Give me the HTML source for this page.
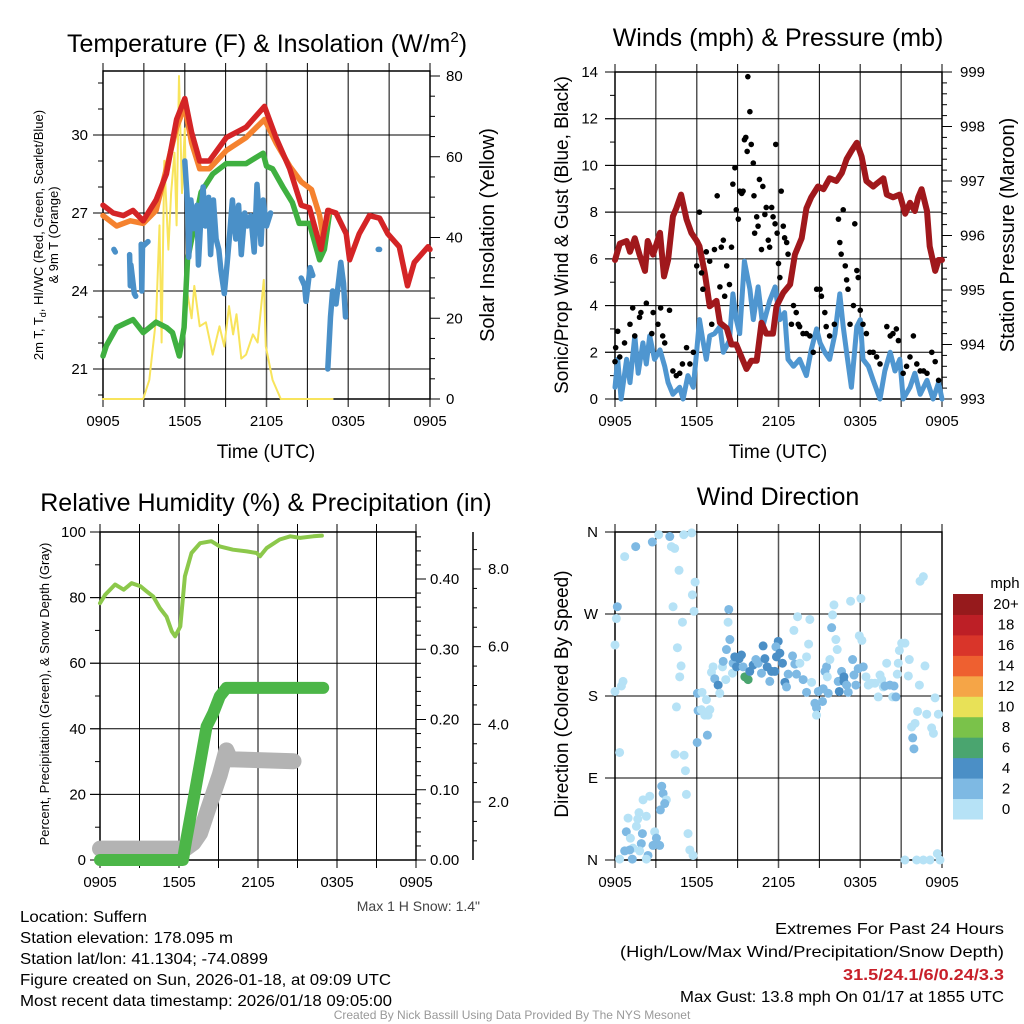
<!DOCTYPE html>
<html><head><meta charset="utf-8"><style>
html,body{margin:0;padding:0;background:#fff;}
svg{display:block;font-family:"Liberation Sans",sans-serif;}
</style></head><body>
<svg id="chart" width="1024" height="1024" viewBox="0 0 1024 1024" xmlns="http://www.w3.org/2000/svg">
<rect x="0" y="0" width="1024" height="1024" fill="#fff"/>
<text x="267" y="52" font-size="25" text-anchor="middle">Temperature (F) &amp; Insolation (W/m<tspan font-size="15" dy="-10">2</tspan><tspan dy="10">)</tspan></text>
<text x="778" y="46" font-size="25" text-anchor="middle">Winds (mph) &amp; Pressure (mb)</text>
<text x="266" y="511" font-size="25" text-anchor="middle">Relative Humidity (%) &amp; Precipitation (in)</text>
<text x="778" y="505" font-size="25" text-anchor="middle">Wind Direction</text>
<text x="266" y="458" font-size="19" text-anchor="middle">Time (UTC)</text>
<text x="778" y="458" font-size="19" text-anchor="middle">Time (UTC)</text>
<text transform="translate(43,235) rotate(-90)" font-size="13" text-anchor="middle">2m T, T<tspan font-size="9" dy="3">d</tspan><tspan dy="-3">, HI/WC (Red, Green, Scarlet/Blue)</tspan></text>
<text transform="translate(58,235) rotate(-90)" font-size="13" text-anchor="middle">&amp; 9m T (Orange)</text>
<text transform="translate(494,235) rotate(-90)" font-size="20" text-anchor="middle">Solar Insolation (Yellow)</text>
<text transform="translate(568,235) rotate(-90)" font-size="19" text-anchor="middle">Sonic/Prop Wind &amp; Gust (Blue, Black)</text>
<text transform="translate(1014,235) rotate(-90)" font-size="20" text-anchor="middle">Station Pressure (Maroon)</text>
<text transform="translate(49,694) rotate(-90)" font-size="13" text-anchor="middle">Percent, Precipitation (Green), &amp; Snow Depth (Gray)</text>
<text transform="translate(568,694) rotate(-90)" font-size="19" text-anchor="middle">Direction (Colored By Speed)</text>
<text x="1005" y="588" font-size="15" text-anchor="middle">mph</text>
<text x="480" y="911" font-size="14" fill="#444" text-anchor="end">Max 1 H Snow: 1.4"</text>
<g font-size="16">
<text x="20" y="922" textLength="127" lengthAdjust="spacingAndGlyphs">Location: Suffern</text>
<text x="20" y="943" textLength="213" lengthAdjust="spacingAndGlyphs">Station elevation: 178.095 m</text>
<text x="20" y="964" textLength="248" lengthAdjust="spacingAndGlyphs">Station lat/lon: 41.1304; -74.0899</text>
<text x="20" y="985" textLength="371" lengthAdjust="spacingAndGlyphs">Figure created on Sun, 2026-01-18, at 09:09 UTC</text>
<text x="20" y="1006" textLength="372" lengthAdjust="spacingAndGlyphs">Most recent data timestamp: 2026/01/18 09:05:00</text>
</g>
<g font-size="16">
<text x="775" y="934" textLength="229" lengthAdjust="spacingAndGlyphs">Extremes For Past 24 Hours</text>
<text x="620" y="957" textLength="384" lengthAdjust="spacingAndGlyphs">(High/Low/Max Wind/Precipitation/Snow Depth)</text>
<text x="843" y="980" textLength="161" lengthAdjust="spacingAndGlyphs" fill="#c8202a" font-weight="bold">31.5/24.1/6/0.24/3.3</text>
<text x="680" y="1002" textLength="324" lengthAdjust="spacingAndGlyphs">Max Gust: 13.8 mph On 01/17 at 1855 UTC</text>
</g>
<text x="512" y="1019" font-size="12" fill="#999" text-anchor="middle">Created By Nick Bassill Using Data Provided By The NYS Mesonet</text>
</svg>
<script>
// ===== DATA (hours since 0905 UTC) =====
const timeLabels = ["0905","1505","2105","0305","0905"];
const tempTicks = [21,24,27,30];
const insolTicks = [0,20,40,60,80];
const windTicks = [0,2,4,6,8,10,12,14];
const pressTicks = [993,994,995,996,997,998,999];
const rhTicks = [0,20,40,60,80,100];
const precipTicks = [0.00,0.10,0.20,0.30,0.40];
const snowTicks = [2.0,4.0,6.0,8.0];
const dirTicks = ["N","E","S","W","N"];
const speedBins = ["0","2","4","6","8","10","12","14","16","18","20+"];

const tempRed = [[0,27.3],[0.75,27.0],[1.5,26.9],[2.2,27.1],[2.95,26.7],[3.9,27.5],[4.65,28.5],[5.4,30.6],[6.0,31.4],[6.5,30.1],[7.1,29.0],[7.8,29.0],[9.05,29.9],[10.5,30.3],[11.85,31.1],[12.7,29.9],[13.7,28.7],[14.55,27.3],[15.15,27.2],[16.0,25.6],[16.5,27.1],[17.1,27.0],[17.85,26.2],[18.1,25.2],[18.8,26.2],[19.55,26.9],[20.3,26.8],[20.9,26.2],[21.75,25.7],[22.35,24.2],[22.85,25.1],[23.85,25.7],[24,25.6]];
const tempOrange = [[0,26.9],[1.0,26.5],[2.0,26.7],[2.95,26.6],[3.9,27.1],[5.4,30.3],[6.0,31.1],[6.5,29.7],[7.1,28.7],[7.8,28.7],[9.05,29.4],[10.5,29.9],[11.85,30.6],[12.7,29.7],[13.7,28.8],[14.55,28.2],[15.3,27.9],[15.9,26.9],[16.15,26.1],[16.6,27.1]];
const tempGreen = [[0,21.5],[0.25,21.9],[1.0,22.6],[2.2,22.9],[2.95,22.4],[3.9,22.8],[4.65,22.6],[5.1,22.4],[5.6,21.5],[5.95,22.6],[6.2,25.2],[6.7,26.5],[7.2,27.8],[8.05,28.5],[9.05,28.9],[10.5,28.9],[11.75,29.3],[12.0,28.8],[12.45,28.7],[13.2,28.0],[13.9,27.4],[14.4,26.6],[15.15,26.6],[15.9,25.2],[16.25,25.6],[16.6,26.9]];
const tempBlue = [[0.8,25.6],[0.9,25.5],null,[1.95,25.4],[2.0,24.2],[2.05,25.0],[2.3,23.9],[2.4,23.8],null,[2.8,25.8],[2.85,24.0],[2.9,25.7],[3.1,25.8],[3.3,25.9],null,[6.0,29.0],[6.2,27.4],[6.3,25.3],[6.45,27.5],[6.65,26.4],[6.9,27.3],[7.0,25.0],[7.2,27.0],[7.35,28.0],[7.5,26.5],[7.75,27.6],[7.9,25.4],[8.1,27.5],[8.3,26.0],[8.5,25.6],[8.65,24.8],[8.9,23.9],[9.1,25.0],[9.3,26.2],[9.5,27.5],[9.75,26.0],[9.95,27.3],[10.15,25.4],[10.4,27.0],[10.6,26.5],[10.85,26.9],[11.1,25.5],[11.3,28.1],[11.6,25.8],[11.75,27.5],[12.0,26.5],[12.3,27.0],null,[14.55,24.5],[14.8,24.2],[14.9,23.6],[15.2,24.9],[15.4,24.6],null,[16.5,21.0],[16.7,23.0],[16.85,24.0],[17.1,23.5],[17.45,25.1],[17.65,24.3],[17.8,23.0],null,[20.2,25.6],[20.3,25.6]];
const insolation = [[0,0],[2.95,0],[3.4,4.7],[3.9,20],[4.15,43],[4.3,14],[4.5,59],[4.8,37],[5.0,51],[5.25,61],[5.4,43],[5.58,80],[5.8,51],[6.0,67],[6.2,26],[6.5,20],[6.7,28],[7.1,18],[7.55,19],[8.05,11],[8.55,18],[8.9,13],[9.25,23],[9.55,16],[9.8,21],[10.15,10],[10.5,11],[11.0,16],[11.35,14],[11.8,29.5],[11.95,13],[12.45,4.7],[13.05,0],[16.85,0]];

const windSpeed = [[0,0.5],[0.2,1.7],[0.45,0],[0.85,1.7],[1.1,0.7],[1.45,2.7],[1.7,1.1],[2.05,2.4],[2.3,1.5],[2.55,2.7],[2.9,1.7],[3.3,2.1],[3.65,1.4],[3.9,0.7],[4.25,0.2],[4.75,0.5],[5.0,0],[5.35,1.0],[5.75,0.5],[6.0,2.1],[6.2,3.4],[6.45,2.5],[6.7,1.7],[6.95,2.7],[7.3,2.8],[7.7,3.1],[7.95,2.0],[8.4,2.5],[8.65,4.5],[8.9,3.4],[9.15,2.8],[9.5,5.9],[9.9,4.7],[10.15,3.4],[10.5,4.8],[10.85,3.1],[11.35,4.2],[11.75,4.8],[12.1,3.4],[12.45,3.7],[12.7,1.7],[13.1,1.4],[13.55,1.7],[14.05,1.0],[14.4,2.1],[14.8,3.0],[15.05,2.4],[15.4,2.0],[15.75,1.7],[16.15,2.8],[16.5,4.5],[16.75,3.1],[17.0,2.0],[17.35,0.5],[17.75,3.1],[18.0,3.4],[18.2,1.7],[18.6,1.4],[18.95,0.8],[19.45,0],[19.8,1.2],[20.2,2.0],[20.55,1.2],[20.9,1.7],[21.15,0],[21.65,0.5],[22.0,1.1],[22.4,0.2],[22.9,0.8],[23.35,0],[23.75,0.7],[24,0]];
const pressure = [[0,995.55],[0.35,995.85],[0.85,995.9],[1.1,995.7],[1.45,995.95],[1.8,995.65],[2.2,995.35],[2.4,995.9],[2.8,995.65],[3.3,996.05],[3.6,995.25],[3.9,995.55],[4.25,996.35],[4.5,996.5],[4.85,996.75],[5.25,996.3],[5.6,996.05],[6.0,995.9],[6.2,995.8],[6.6,995.3],[6.95,994.7],[7.45,994.8],[7.7,994.4],[8.2,994.3],[8.55,994.0],[8.9,994.0],[9.4,993.7],[9.65,993.55],[10.0,993.7],[10.4,993.7],[10.75,994.4],[11.1,994.2],[11.6,994.2],[11.85,994.7],[12.35,994.95],[12.85,995.1],[13.2,995.65],[13.7,995.95],[14.05,996.5],[14.4,996.7],[14.9,996.9],[15.3,996.85],[15.75,997.05],[16.25,997.0],[16.65,997.15],[17.0,997.4],[17.35,997.55],[17.75,997.7],[18.1,997.45],[18.45,997.0],[18.95,996.9],[19.2,996.95],[19.7,997.05],[19.95,996.75],[20.4,996.7],[20.9,996.75],[21.3,996.4],[21.65,996.6],[22.0,996.45],[22.25,996.7],[22.5,996.85],[22.9,996.45],[23.1,995.8],[23.5,995.35],[23.75,995.55],[24,995.55]];
const gusts = [[0,1.6],[0.05,2.2],[0.2,2.9],[0.35,1.8],[0.7,2.4],[1.1,3.2],[1.3,3.9],[1.45,2.7],[1.8,3.5],[1.9,3.7],[2.3,4.1],[2.7,2.8],[2.8,3.7],[3.15,3.2],[3.35,3.9],[3.5,2.7],[3.65,2.4],[4.0,3.8],[4.25,1.2],[4.5,1.0],[4.75,1.1],[4.95,1.5],[5.25,2.2],[5.5,1.5],[5.75,2.0],[6.0,5.7],[6.2,8.0],[6.35,5.4],[6.45,4.7],[6.7,6.3],[6.95,5.9],[7.1,3.2],[7.3,6.4],[7.5,8.7],[7.7,4.8],[7.8,6.5],[7.95,6.8],[8.05,4.4],[8.2,5.7],[8.4,4.9],[8.55,6.5],[8.65,9.2],[8.8,9.9],[8.9,8.1],[9.05,7.7],[9.15,8.9],[9.3,8.8],[9.4,8.9],[9.5,11.1],[9.6,11.2],[9.7,10.6],[9.75,13.8],[9.9,12.3],[10.0,10.9],[10.15,10.1],[10.2,8.7],[10.25,7.1],[10.4,7.8],[10.5,7.4],[10.6,9.4],[10.75,6.4],[10.85,9.1],[11.0,7.9],[11.1,8.2],[11.25,6.8],[11.35,6.5],[11.5,8.2],[11.6,7.8],[11.75,7.5],[11.8,10.9],[11.9,7.1],[12.0,5.8],[12.1,5.2],[12.2,8.9],[12.35,7.4],[12.45,6.9],[12.6,6.7],[12.7,6.2],[12.95,3.2],[13.1,4.0],[13.3,3.7],[13.45,3.2],[13.55,3.1],[13.8,2.8],[14.05,2.8],[14.3,2.7],[14.55,2.0],[14.8,4.7],[15.05,4.7],[15.15,4.4],[15.4,3.7],[15.5,3.1],[15.75,2.7],[16.1,3.2],[16.4,7.7],[16.5,6.7],[16.6,6.2],[16.75,8.1],[16.9,5.7],[17.0,5.1],[17.1,4.7],[17.25,3.2],[17.5,4.0],[17.6,7.5],[17.75,5.5],[17.85,5.2],[18.0,3.8],[18.2,3.2],[18.45,2.8],[18.7,2.0],[18.95,2.0],[19.2,1.8],[19.45,1.5],[19.95,3.1],[20.2,2.7],[20.4,2.8],[20.65,3.0],[20.8,2.5],[21.15,1.1],[21.4,1.4],[21.65,1.8],[21.9,2.7],[22.15,1.5],[22.4,1.2],[22.65,1.2],[22.9,1.1],[23.25,2.0],[23.5,1.6],[23.75,0.8]];

const humidity = [[0,78.3],[0.4,80.9],[1.15,84],[1.8,82.4],[2.4,84.4],[3.05,83.5],[3.55,81.9],[4.05,80.3],[4.55,76.8],[5.05,74.2],[5.45,69.7],[5.7,68.2],[6.1,71.2],[6.45,86.5],[6.95,93.6],[7.6,96.6],[8.45,97.2],[9.1,95.6],[10.1,94.6],[11.15,94.1],[11.9,93.6],[12.15,92.6],[12.65,95.1],[13.65,97.7],[14.45,98.7],[15.2,98.2],[16.2,98.7],[16.85,98.9]];
const precip = [[0,0],[6.3,0],[6.55,0.028],[7.05,0.08],[7.6,0.138],[8.1,0.19],[8.6,0.209],[9.1,0.233],[9.6,0.245],[16.95,0.245]];
const snowDepth = [[0,0.8],[6.5,0.8],[7.1,0.95],[7.6,1.2],[8.1,1.7],[8.6,2.2],[9.1,2.7],[9.6,3.33],[9.9,3.1],[14.7,3.05]];

// [hour, direction degrees, speed mph]
const windDir = [[0.71,333,1],[1.52,344,3],[2.74,349,3],[3.21,357,1],[4.02,355,3],[4.14,344,1],[4.38,342,1],[4.70,318,1],[5.05,357,1],[5.63,359,1],[5.88,305,1],[5.68,291,1],[5.80,273,1],[0.17,278,3],[0.10,265,1],[0,236,1],[0.59,196,1],[0.47,191,1],[0,185,1],[0.34,118,1],[4.26,278,1],[4.95,261,1],[4.58,233,1],[4.85,213,1],[4.75,201,1],[4.51,168,1],[4.41,116,1],[5.07,115,1],[5.17,98,1],[5.24,72,1],[5.36,29,1],[5.49,11,1],[5.73,5,1],
[3.43,81,3],[3.53,73,3],[3.77,66,1],[3.65,62,3],[3.33,55,3],[2.55,70,1],[2.06,66,1],[1.76,52,1],[1.67,45,1],[0.96,46,1],[2.30,48,1],[1.57,37,1],[0.83,31,3],[2.01,29,3],[1.13,24,1],[2.91,31,1],[3.04,24,3],[2.79,16,3],[3.28,16,3],[1.93,18,3],[1.32,13,1],[1.08,11,3],[0.71,10,3],[1.81,10,1],[2.42,5,3],[2.30,1,1],[1.27,1,3],[0.34,1,1],
[6.05,183,3],[6.39,184,1],[6.71,176,1],[6.10,164,3],[6.34,165,1],[6.59,159,1],[6.83,159,1],[6.96,165,1],[6.78,137,3],[6.03,129,3],[7.20,212,1],[7.08,206,1],[7.32,199,3],[7.57,192,5],[7.69,183,1],[7.89,212,1],[7.94,218,3],[8.13,198,1],[8.18,231,3],[8.35,275,3],[8.30,261,1],[8.43,242,3],[8.62,205,1],[8.67,216,3],[8.79,223,5],[8.92,212,5],[9.11,221,5],[9.28,225,5],[9.40,212,3],[9.53,201,7],[9.77,198,7],[9.89,207,5],[10.14,214,5],[10.34,220,3],[10.51,216,3],[10.75,205,3],[10.87,235,5],[11.00,221,5],[11.17,212,5],[11.36,196,3],[11.49,207,5],[11.73,207,5],[11.85,223,5],[11.98,240,5],[11.81,234,3],[12.10,227,5],[12.29,216,5],[12.47,195,5],[12.59,190,3],[12.71,204,3],[13.03,224,3],[13.20,215,3],[13.32,204,3],[13.40,267,1],[13.13,252,1],[13.57,216,1],[13.81,198,3],[14.06,223,1],[14.30,264,1],[14.21,237,1],[14.06,184,3],[14.43,195,1],[14.67,172,3],[14.79,167,3],[14.79,159,1],[14.92,185,3],[15.23,174,3],[15.28,188,3],[15.41,207,3],[15.58,201,1],[15.53,212,3],[15.65,183,3],[15.77,220,1],[15.90,255,3],[15.97,269,1],[16.07,280,1],[16.21,242,1],[16.31,231,1],[16.38,196,3],[16.46,185,5],[16.63,207,3],[16.80,201,5],[16.80,196,5],[17.00,192,3],[17.12,184,3],[17.29,284,1],[17.44,220,3],[17.54,203,3],[17.68,192,3],[17.85,210,3],[17.93,246,1],[18.05,287,1],[18.12,241,1],[18.22,212,3],[18.42,201,1],[18.59,192,1],[18.83,194,1],[19.08,194,1],[19.32,179,1],[19.45,203,1],[19.57,198,1],[19.69,190,1],[19.81,191,3],[19.94,216,1],[20.18,192,3],[20.38,179,1],[20.48,191,3],[20.62,179,3],[20.72,204,1],[20.79,216,1],[20.87,230,1],[21.04,238,1],[21.28,238,1],[21.60,220,1],[21.53,202,1],[22.34,192,1],[22.75,213,1],[22.39,306,1],[22.63,311,1],[22.21,163,1],[22.02,150,1],[21.77,146,1],[21.85,134,3],[21.94,122,3],[22.88,160,1],[23.24,145,1],[23.37,139,1],[23.49,178,1],[23.73,160,1],[21.28,0,1],[22.14,0,1],[22.63,0,1],[23.12,0,1],[23.66,7,1],[23.85,0,1]];

const speedColors = ["#b6e2f6","#7eb9e3","#4b8fc6","#4aa56f","#7ac24a","#e8e157","#f5a547","#ee6030","#d9352a","#bd1f26","#961a1c"];

// ===== RENDERING =====
const NS = 'http://www.w3.org/2000/svg';
const svg = document.getElementById('chart');
function mk(tag, attrs, parent) {
  const e = document.createElementNS(NS, tag);
  for (const k in attrs) e.setAttribute(k, attrs[k]);
  (parent || svg).appendChild(e);
  return e;
}
function linearScale(d0, d1, r0, r1) { return v => r0 + (v - d0) * (r1 - r0) / (d1 - d0); }

function pathFrom(data, xs, ys) {
  let d = '', pen = false;
  for (const p of data) {
    if (!p) { pen = false; continue; }
    d += (pen ? 'L' : 'M') + xs(p[0]).toFixed(1) + ',' + ys(p[1]).toFixed(1);
    pen = true;
  }
  return d;
}
function drawLine(g, data, xs, ys, color, width, name) {
  const p = mk('path', {d: pathFrom(data, xs, ys), fill: 'none', stroke: color, 'stroke-width': width, 'stroke-linejoin': 'round', 'stroke-linecap': 'round'}, g);
  
  
  return p;
}

function frame(P, name, hGrid) {
  const g = mk('g', {});
  
  
  const xs = linearScale(0, 24, P.L, P.R);
  for (let i = 0; i <= 8; i++) {
    const x = xs(i * 3);
    const ln = mk('line', {x1: x, x2: x, y1: P.T - 8, y2: P.B + 8, stroke: (i % 2 === 0 && i > 0 && i < 8) ? '#555' : '#000', 'stroke-width': (i % 2 === 0 && i > 0 && i < 8) ? 1.5 : 1}, g);
    
    
  }
  timeLabels.forEach((t, i) => {
    const tx = mk('text', {x: xs(i * 6), y: P.B + 27, 'font-size': 15, 'text-anchor': 'middle'}, g);
    
    
    tx.textContent = t;
  });
  hGrid.forEach(y => {
    const ln = mk('line', {x1: P.L - 10, x2: P.R, y1: y, y2: y, stroke: '#000', 'stroke-width': 1}, g);
    
    
  });
  const r = mk('rect', {x: P.L, y: P.T, width: P.R - P.L, height: P.B - P.T, fill: 'none', stroke: '#000', 'stroke-width': 1.5}, g);
  
  
  return {g, xs};
}
function tick(g, x1, y, len, name) {
  const t = mk('line', {x1: x1, x2: x1 + len, y1: y, y2: y, stroke: '#000', 'stroke-width': 1}, g);
  
  
}
function label(g, x, y, txt, anchor, name, size) {
  const t = mk('text', {x: x, y: y + 5, 'font-size': size || 15, 'text-anchor': anchor}, g);
  
  
  t.textContent = txt;
}

// --- Panel 1: Temperature & insolation
{
  const P = {L: 103, R: 430, T: 71, B: 399};
  const yT = linearScale(27, 30, 213, 135);
  const yI = linearScale(0, 80, 399, 76);
  const f = frame(P, 'temperature-panel', tempTicks.map(yT));
  const g = f.g, xs = f.xs;
  tempTicks.forEach(v => label(g, 88, yT(v), String(v), 'end', 'temp-tick-label'));
  for (let v = 20; v <= 32; v++) if (yT(v) > P.T && yT(v) < P.B) tick(g, P.L - 5, yT(v), 5, 'temp-minor-tick');
  for (let v = 0; v <= 80; v += 5) tick(g, P.R, yI(v), v % 20 === 0 ? 10 : 5, 'insolation-tick');
  insolTicks.forEach(v => label(g, 446, yI(v), String(v), 'start', 'insolation-tick-label'));
  drawLine(g, insolation, xs, yI, '#f8e45c', 2, 'insolation-line');
  drawLine(g, tempGreen, xs, yT, '#3fb040', 5.5, 'dewpoint-line');
  drawLine(g, tempOrange, xs, yT, '#f5822f', 5.5, 'temp-9m-line');
  drawLine(g, tempRed, xs, yT, '#d42426', 5.5, 'temp-2m-line');
  drawLine(g, tempBlue, xs, yT, '#4a90c8', 5.5, 'windchill-line');
}

// --- Panel 2: Winds & pressure
{
  const P = {L: 615, R: 942, T: 72, B: 399};
  const yW = linearScale(0, 14, 399, 72);
  const yP = linearScale(993, 999, 399, 72);
  const f = frame(P, 'winds-panel', windTicks.slice(1, -1).map(yW));
  const g = f.g, xs = f.xs;
  windTicks.forEach(v => label(g, 598, yW(v), String(v), 'end', 'wind-tick-label'));
  for (let v = 0; v <= 14; v++) tick(g, P.L - (v % 2 ? 5 : 10), yW(v), v % 2 ? 5 : 10, 'wind-tick');
  for (let v = 0; v <= 30; v++) tick(g, P.R, yP(993 + v * 0.2), v % 5 === 0 ? 10 : 5, 'pressure-tick');
  pressTicks.forEach(v => label(g, 960, yP(v), String(v), 'start', 'pressure-tick-label'));
  drawLine(g, windSpeed, xs, yW, '#4f96d0', 5, 'wind-speed-line');
  drawLine(g, pressure, xs, yP, '#a0181c', 6, 'pressure-line');
  gusts.forEach(p => {
    const c = mk('circle', {cx: xs(p[0]), cy: yW(p[1]), r: 2.8, fill: '#000'}, g);
    
    
  });
}

// --- Panel 3: Humidity & precipitation
{
  const P = {L: 100, R: 416, T: 532, B: 860};
  const yR = linearScale(0, 100, 860, 532);
  const yPr = linearScale(0, 0.4, 860, 579);
  const yS = linearScale(2, 8, 802, 569);
  const f = frame(P, 'humidity-panel', rhTicks.slice(1, -1).map(yR));
  const g = f.g, xs = f.xs;
  rhTicks.forEach(v => label(g, 86, yR(v), String(v), 'end', 'humidity-tick-label'));
  for (let v = 0; v <= 100; v += 10) tick(g, P.L - (v % 20 ? 5 : 10), yR(v), v % 20 ? 5 : 10, 'humidity-tick');
  for (let i = 0; i <= 23; i++) tick(g, P.R, yPr(i * 0.02), i % 5 === 0 ? 10 : 5, 'precip-tick');
  precipTicks.forEach(v => label(g, 430, yPr(v), v.toFixed(2), 'start', 'precip-tick-label'));
  const ax = mk('line', {x1: 473, x2: 473, y1: 532, y2: 860, stroke: '#000', 'stroke-width': 1.5}, g);
  
  
  for (let v = 0.5; v <= 8.5; v += 0.5) if (yS(v) >= 532 && yS(v) <= 860) tick(g, 473, yS(v), v % 2 === 0 ? 8 : 4, 'snow-tick');
  snowTicks.forEach(v => label(g, 488, yS(v), v.toFixed(1), 'start', 'snow-tick-label'));
  drawLine(g, snowDepth, xs, yS, '#b3b3b3', 16, 'snow-depth-line');
  drawLine(g, precip, xs, yPr, '#4cb648', 12, 'precip-line');
  drawLine(g, humidity, xs, yR, '#8cc84b', 4, 'humidity-line');
}

// --- Panel 4: Wind direction
{
  const P = {L: 615, R: 942, T: 532, B: 860};
  const yD = linearScale(0, 360, 860, 532);
  const f = frame(P, 'direction-panel', [90, 180, 270].map(yD));
  const g = f.g, xs = f.xs;
  dirTicks.forEach((t, i) => { tick(g, P.L - 10, yD(i * 90), 10, 'direction-tick'); label(g, 598, yD(i * 90), t, 'end', 'direction-tick-label'); });
  windDir.forEach(p => {
    const bin = Math.min(10, Math.floor(p[2] / 2));
    const c = mk('circle', {cx: xs(p[0]), cy: yD(p[1]), r: 4.5, fill: speedColors[bin]}, g);
    
    
  });
  const cb = mk('g', {});
  
  
  const h = 225 / 11;
  speedBins.forEach((b, i) => {
    const y = 819 - (i + 1) * h;
    const r = mk('rect', {x: 953, y: y, width: 30, height: h + 0.5, fill: speedColors[i]}, cb);
    
    
    label(cb, 1006, y + h / 2, b, 'middle', 'colorbar-label');
  });
}
</script>
</body></html>
